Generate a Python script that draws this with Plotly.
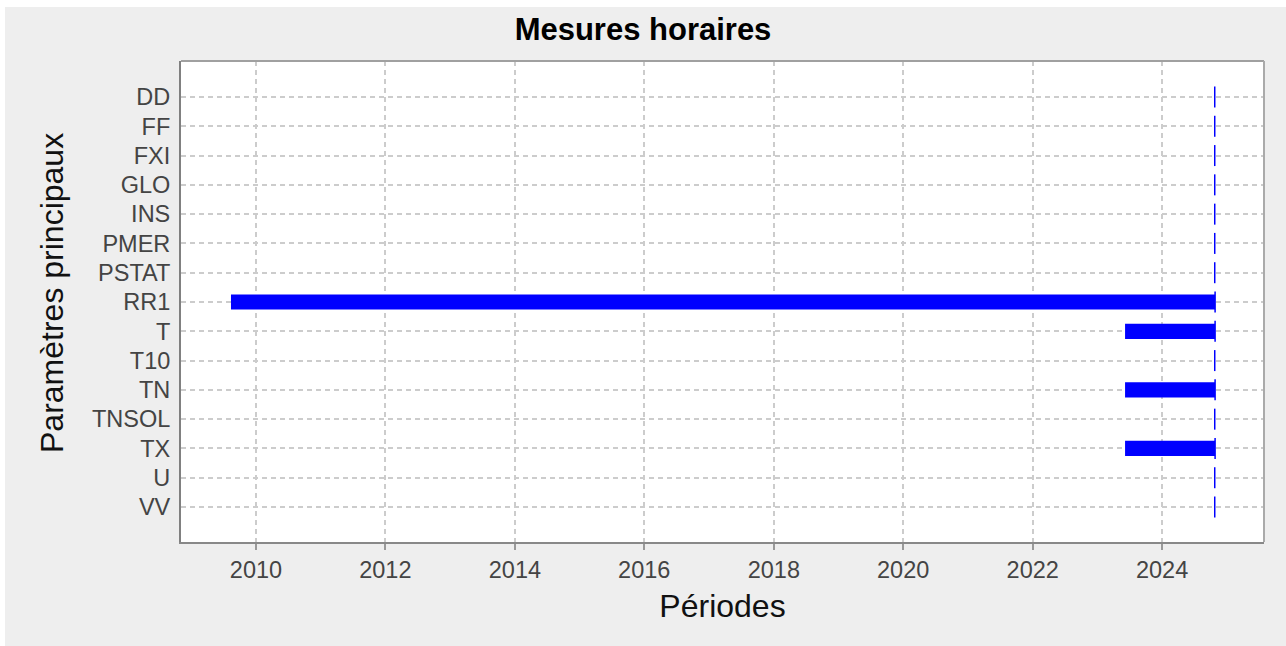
import plotly.graph_objects as go
import pandas as pd

# ---- data ----
parametres = ["DD", "FF", "FXI", "GLO", "INS", "PMER", "PSTAT", "RR1",
              "T", "T10", "TN", "TNSOL", "TX", "U", "VV"]
debuts = ["2024-10-24", "2024-10-24", "2024-10-24", "2024-10-24", "2024-10-24",
          "2024-10-24", "2024-10-24", "2009-08-13", "2023-06-06", "2024-10-24",
          "2023-06-06", "2024-10-24", "2023-06-06", "2024-10-24", "2024-10-24"]
fins = ["2024-10-24"] * 7 + ["2024-10-26", "2024-10-26", "2024-10-24",
                             "2024-10-26", "2024-10-24", "2024-10-26",
                             "2024-10-24", "2024-10-24"]
x_range = ["2008-11-04", "2025-07-29"]
x_ticks = ["2010", "2012", "2014", "2016", "2018", "2020", "2022", "2024"]

df = pd.DataFrame({"param": parametres,
                   "start": pd.to_datetime(debuts),
                   "end": pd.to_datetime(fins)})
df["dur_ms"] = (df["end"] - df["start"]).dt.total_seconds() * 1000

BLUE = "#0000ff"
FONT = "Liberation Sans, Arial, sans-serif"

fig = go.Figure()
fig.add_trace(go.Bar(
    y=df["param"], x=df["dur_ms"], base=df["start"].dt.strftime("%Y-%m-%d"),
    orientation="h", width=0.52, marker=dict(color=BLUE, line=dict(width=0)),
    showlegend=False, hoverinfo="skip"))
# end-of-period markers (short vertical ticks)
fig.add_trace(go.Scatter(
    y=df["param"], x=df["end"].dt.strftime("%Y-%m-%d"), mode="markers",
    marker=dict(symbol="line-ns", size=15, line=dict(color=BLUE, width=1.5)),
    showlegend=False, hoverinfo="skip"))

W, H = 1281, 639
L, R, T, B = 176, 22, 54, 104
PW, PH = W - L - R, H - T - B

shapes = [
    # lighter top / right frame
    dict(type="line", xref="paper", yref="paper", x0=0, x1=1, y0=1, y1=1,
         line=dict(color="#a0a0a0", width=2)),
    dict(type="line", xref="paper", yref="paper", x0=1, x1=1, y0=0, y1=1,
         line=dict(color="#aaaaaa", width=2)),
]

fig.update_layout(
    width=W, height=H,
    margin=dict(l=L, r=R, t=T, b=B),
    paper_bgcolor="#eeeeee", plot_bgcolor="white",
    font=dict(family=FONT, color="#444444"),
    title=dict(text="<b>Mesures horaires</b>", x=(643 - 5) / W, xref="container",
               xanchor="center", y=1 - 22 / H, yref="container", yanchor="middle",
               font=dict(size=31, color="black", family=FONT)),
    barmode="overlay",
    shapes=shapes,
    annotations=[dict(
        text="Paramètres principaux", textangle=-90, showarrow=False,
        xref="paper", yref="paper", x=(47 - L) / PW, y=(H - B - 286) / PH,
        xanchor="center", yanchor="middle",
        font=dict(size=32, color="#111111", family=FONT))],
)
fig.update_xaxes(
    type="date", range=x_range,
    tickvals=[f"{y}-01-01" for y in x_ticks], ticktext=x_ticks,
    tickfont=dict(size=23.5, color="#444444"),
    ticks="outside", ticklen=6, tickwidth=2, tickcolor="#999999",
    showgrid=True, gridcolor="#cccccc", gridwidth=1.5, griddash="5px,4px",
    showline=True, linecolor="#888888", linewidth=2, mirror=False,
    zeroline=False,
    title=dict(text="Périodes", font=dict(size=32, color="#111111"), standoff=12),
)
fig.update_yaxes(
    type="category", categoryorder="array", categoryarray=parametres,
    range=[14 + 35 / 29.3, -36 / 29.3],
    tickfont=dict(size=23.5, color="#444444"),
    ticks="", ticklabelstandoff=4,
    showgrid=True, gridcolor="#cccccc", gridwidth=1.5, griddash="5px,4px",
    showline=True, linecolor="#808080", linewidth=2, mirror=False,
    zeroline=False,
)

fig.write_html("out.html",
               post_script="document.body.style.margin='7px 0 0 5px';")
